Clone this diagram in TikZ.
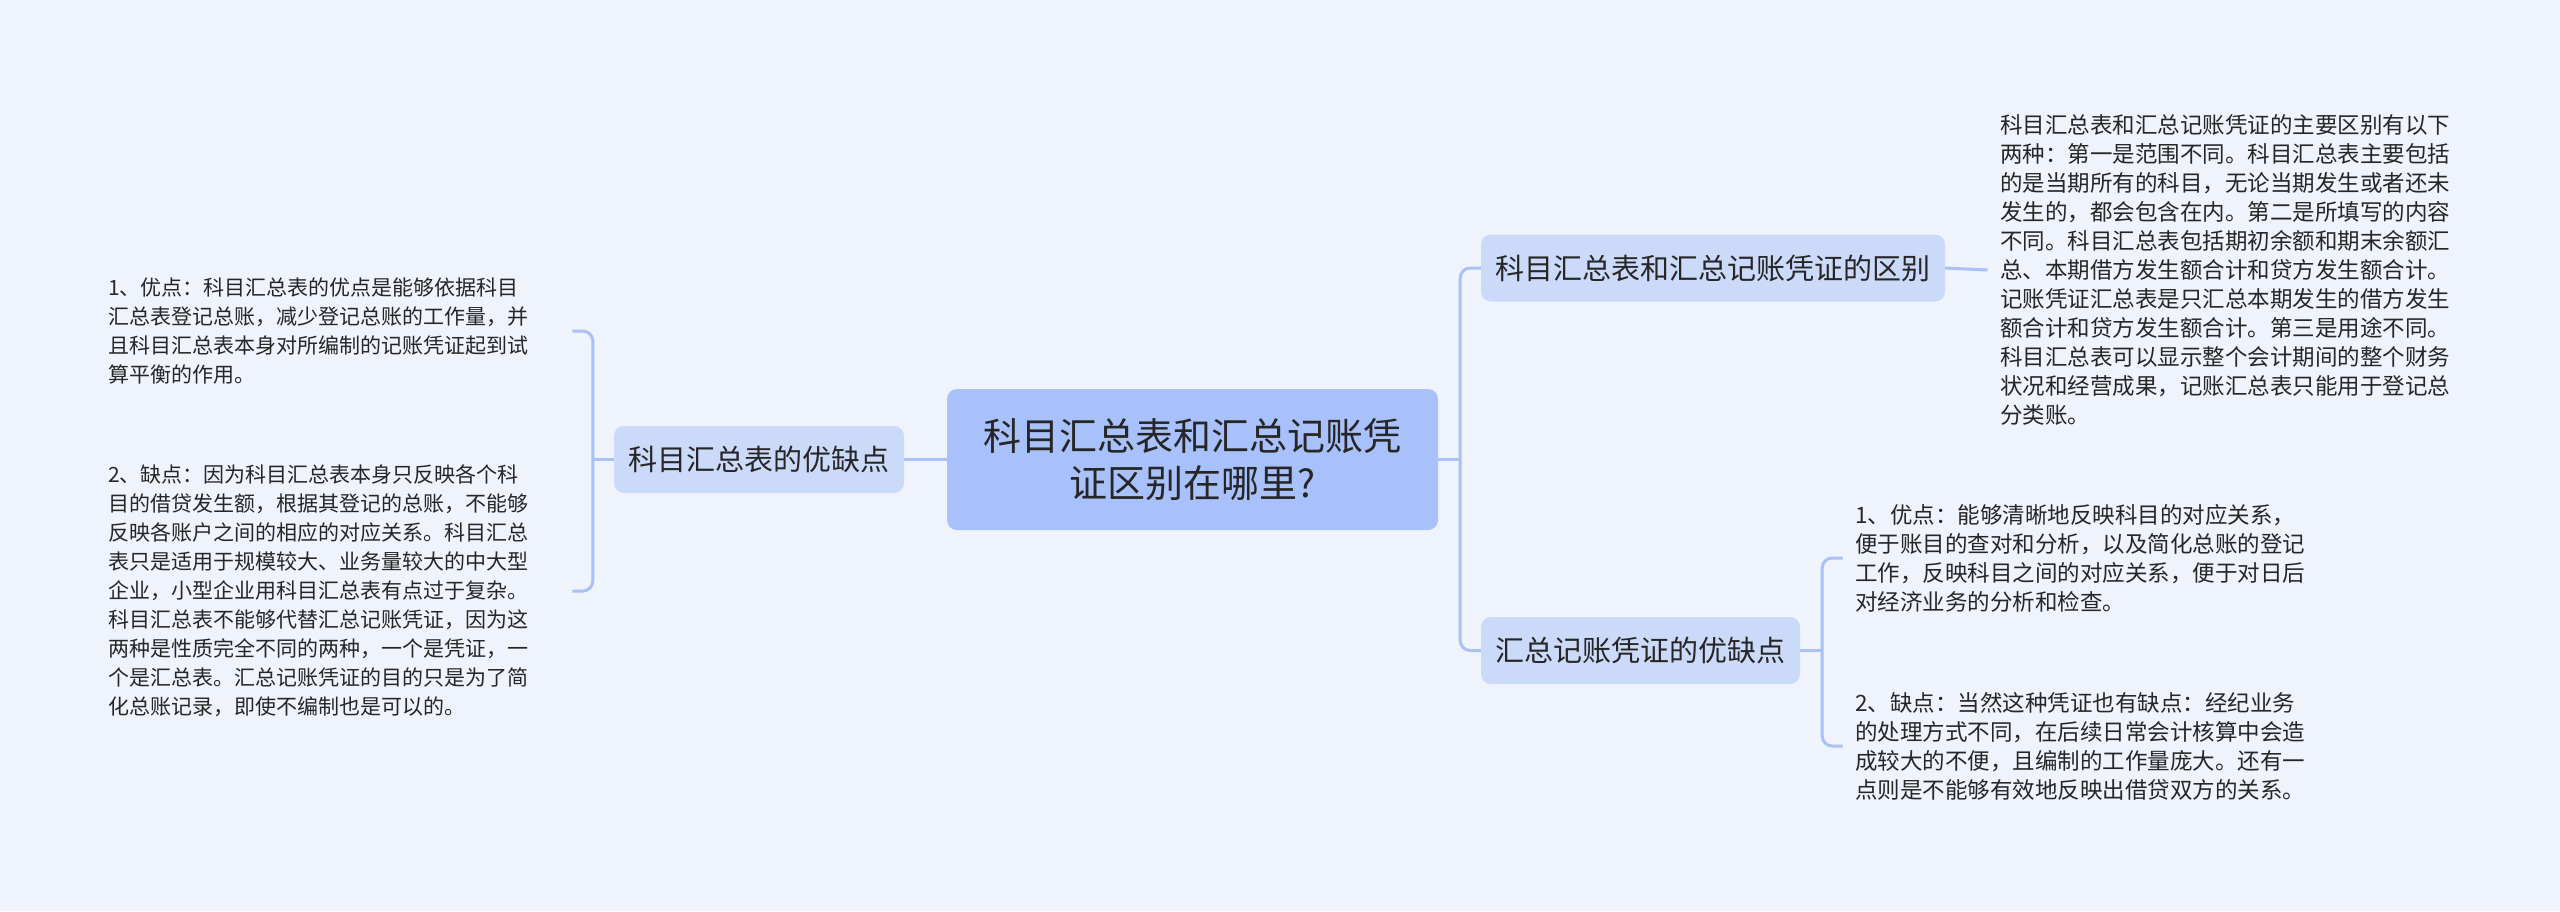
\documentclass[tikz,border=0pt]{standalone}
\usepackage{fontspec}
\newfontfamily\cjk{Noto Sans CJK SC}
\definecolor{bg}{HTML}{EEF3FC}
\definecolor{rootfill}{HTML}{A9C1FA}
\definecolor{brfill}{HTML}{CCDAF9}
\definecolor{ln}{HTML}{A9C1F4}
\definecolor{tx}{HTML}{262626}
\begin{document}
\begin{tikzpicture}[x=1pt,y=-1pt,
 rootbox/.style={fill=rootfill, rounded corners=10pt, minimum width=491pt, minimum height=141pt, align=center, font=\cjk\fontsize{38}{47}\selectfont, text=tx, inner sep=0pt},
 branchbox/.style={fill=brfill, rounded corners=10pt, minimum height=67pt, font=\cjk\fontsize{29}{35}\selectfont, text=tx, inner sep=0pt},
 leafL/.style={anchor=west, inner sep=0pt, text width=464pt, align=left, font=\cjk\fontsize{21}{29}\selectfont, text=tx},
 leafR/.style={anchor=west, inner xsep=12.5pt, inner ysep=0pt, text width=470pt, align=left, font=\cjk\fontsize{22.5}{29}\selectfont, text=tx},
 conn/.style={draw=ln, line width=3pt, rounded corners=10pt}
]
\fill[bg] (0,0) rectangle (2560,911);
\useasboundingbox (0,0) rectangle (2560,911);

\node[rootbox] (root) at (1192.5,459.5) {科目汇总表和汇总记账凭\\证区别在哪里?};
\node[branchbox, minimum width=290pt] (bl) at (759,459.5) {科目汇总表的优缺点};
\node[branchbox, minimum width=464pt] (bt) at (1713,268) {科目汇总表和汇总记账凭证的区别};
\node[branchbox, minimum width=319pt] (bb) at (1640.5,650.5) {汇总记账凭证的优缺点};

\node[leafL] (l1) at (108,331) {1、优点：科目汇总表的优点是能够依据科目\\汇总表登记总账，减少登记总账的工作量，并\\且科目汇总表本身对所编制的记账凭证起到试\\算平衡的作用。};
\node[leafL] (l2) at (108,591) {2、缺点：因为科目汇总表本身只反映各个科\\目的借贷发生额，根据其登记的总账，不能够\\反映各账户之间的相应的对应关系。科目汇总\\表只是适用于规模较大、业务量较大的中大型\\企业，小型企业用科目汇总表有点过于复杂。\\科目汇总表不能够代替汇总记账凭证，因为这\\两种是性质完全不同的两种，一个是凭证，一\\个是汇总表。汇总记账凭证的目的只是为了简\\化总账记录，即使不编制也是可以的。};
\node[leafR] (rt) at (1987.5,270) {科目汇总表和汇总记账凭证的主要区别有以下\\两种：第一是范围不同。科目汇总表主要包括\\的是当期所有的科目，无论当期发生或者还未\\发生的，都会包含在内。第二是所填写的内容\\不同。科目汇总表包括期初余额和期末余额汇\\总、本期借方发生额合计和贷方发生额合计。\\记账凭证汇总表是只汇总本期发生的借方发生\\额合计和贷方发生额合计。第三是用途不同。\\科目汇总表可以显示整个会计期间的整个财务\\状况和经营成果，记账汇总表只能用于登记总\\分类账。};
\node[leafR] (r1) at (1842.5,558) {1、优点：能够清晰地反映科目的对应关系，\\便于账目的查对和分析，以及简化总账的登记\\工作，反映科目之间的对应关系，便于对日后\\对经济业务的分析和检查。};
\node[leafR] (r2) at (1842.5,746) {2、缺点：当然这种凭证也有缺点：经纪业务\\的处理方式不同，在后续日常会计核算中会造\\成较大的不便，且编制的工作量庞大。还有一\\点则是不能够有效地反映出借贷双方的关系。};

% connectors
\draw[conn] (root.west) -- (bl.east);
\draw[conn] (bl.west) -- ++(-21,0) coordinate (bj);
\draw[conn] (l1.east) -| (bj) |- (l2.east);

\draw[conn] (root.east) -- ++(22,0) coordinate (rj);
\draw[conn] (bt.west) -| (rj) |- (bb.west);

\draw[conn] (bt.east) -- (rt.west);

\draw[conn] (bb.east) -- ++(22,0) coordinate (bj2);
\draw[conn] (r1.west) -| (bj2) |- (r2.west);
\end{tikzpicture}
\end{document}
